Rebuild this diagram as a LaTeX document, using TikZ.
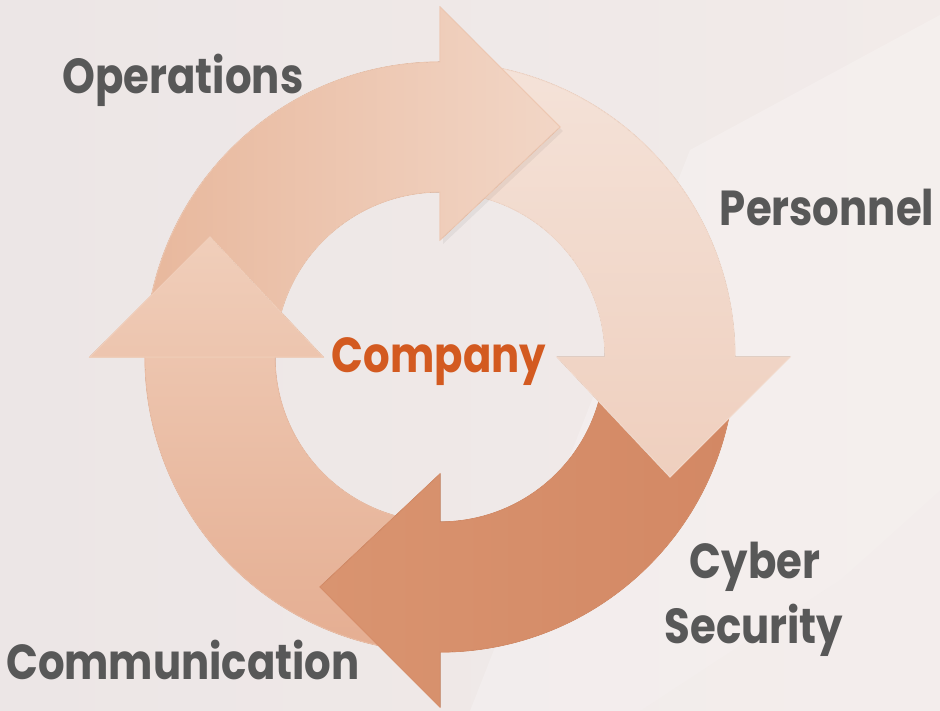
\documentclass[tikz,border=0pt]{standalone}
\usepackage{fontspec}
\usepackage{graphicx}
\newfontfamily\labfont{Poppins}
\definecolor{bgL}{HTML}{ECE6E6}
\definecolor{bgR}{HTML}{F2EBE9}
\definecolor{labgray}{HTML}{585858}
\definecolor{compcol}{HTML}{D35A20}
\definecolor{aL}{HTML}{E8B89D}
\definecolor{aR}{HTML}{F2D6C6}
\definecolor{aM}{HTML}{EDC7B1}
\definecolor{bT}{HTML}{F4E2D8}
\definecolor{bB}{HTML}{EFCFBE}
\definecolor{bM}{HTML}{F2D9CB}
\definecolor{cL}{HTML}{D99470}
\definecolor{cR}{HTML}{D38864}
\definecolor{cM}{HTML}{D68E6A}
\definecolor{dT}{HTML}{F0CEBA}
\definecolor{dB}{HTML}{E5AE92}
\definecolor{dM}{HTML}{EBBEA6}
\newcommand\cycarrow[1]{%
  (#1+78:295pt) arc[start angle=#1+78, end angle=#1, radius=295pt]
  -- (#1:350pt) -- (#1-27.55:259.4pt) -- (#1:117pt) -- (#1:165pt)
  arc[start angle=#1, end angle=#1+78, radius=165pt] -- cycle}
\newcommand\cychead[1]{%
  (#1:350pt) -- (#1-27.55:259.4pt) -- (#1:117pt) -- cycle}
\newcommand\lb[1]{\scalebox{1.02}[1.2]{#1}}
\begin{document}
\begin{tikzpicture}[x=1pt,y=1pt,
  under/.style={fill=#1, draw=#1, line width=0.8pt, line join=miter},
  edge/.style={draw=#1, line width=0.9pt, line join=miter},
  lbl/.style={font=\labfont\bfseries\fontsize{41}{46}\selectfont, text=labgray, inner sep=0pt},
  comp/.style={font=\labfont\bfseries\fontsize{41}{46}\selectfont, text=compcol, inner sep=0pt}]
\useasboundingbox (0,0) rectangle (940,711);
\fill[left color=bgL, right color=bgR] (0,0) rectangle (940,711);
% light rays
\fill[white, opacity=0.22] (690,561) -- (940,696) -- (940,221) -- (840,131) -- (640,0) -- (470,0) -- cycle;
\fill[white, opacity=0.15] (940,221) -- (840,131) -- (640,0) -- (940,0) -- cycle;
\begin{scope}[shift={(440,354)}]
  % left arrow (D)
  \path[under=dM] \cycarrow{180};
  \fill[top color=dT, bottom color=dB] \cycarrow{180};
  \path[edge=dM] \cycarrow{180};
  % bottom arrow (C)
  \path[under=cM] \cycarrow{-90};
  \fill[left color=cL, right color=cR] \cycarrow{-90};
  \path[edge=cM] \cycarrow{-90};
  % right arrow (B)
  \path[under=bM] \cycarrow{0};
  \fill[top color=bT, bottom color=bB] \cycarrow{0};
  \path[edge=bM] \cycarrow{0};
  % top arrow shadow on B
  \fill[black, opacity=0.05] [shift={(3,-4)}] \cychead{90};
  % top arrow (A)
  \path[under=aM] \cycarrow{90};
  \fill[left color=aL, right color=aR] \cycarrow{90};
  \path[edge=aM] \cycarrow{90};
  % redraw head of D on top of A's tail
  \path[under=dT] \cychead{180};
  \begin{scope}
    \clip \cychead{180};
    \fill[top color=dT, bottom color=dB] \cycarrow{180};
  \end{scope}
  \path[edge=dT] \cychead{180};
\end{scope}
\node[lbl] (ops) at (183,631) {\lb{Operations}};
\node[lbl] (pers) at (827,503) {\lb{Personnel}};
\node[comp] (comp) at (439,349) {\lb{Company}};
\node[lbl] (cyb) at (755,144) {\lb{Cyber}};
\node[lbl] (sec) at (754,81) {\lb{Security}};
\node[lbl] (comm) at (183,51) {\lb{Communication}};
\end{tikzpicture}
\end{document}
